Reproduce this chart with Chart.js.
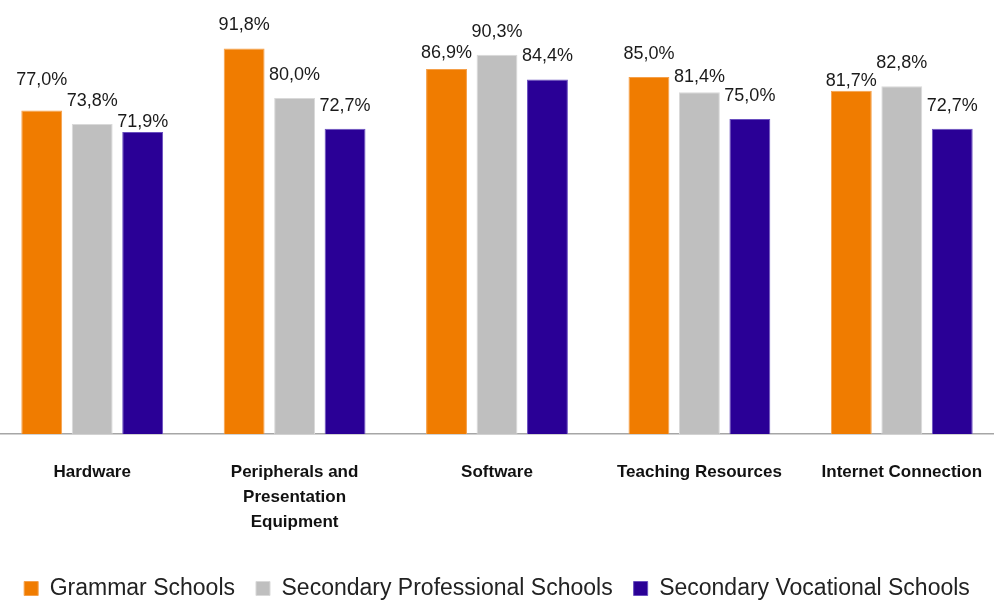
<!DOCTYPE html>
<html>
<head>
<meta charset="utf-8">
<script src="https://cdn.jsdelivr.net/npm/chart.js@4/dist/chart.umd.min.js"></script>
<style>
  html, body { margin: 0; padding: 0; background: #fff; overflow: hidden; }
  #wrap { position: absolute; left: -9px; top: 0; width: 1012px; height: 610px; }
</style>
</head>
<body>
<div id="wrap"><canvas id="schoolChart"></canvas></div>
<script>
// Categories and series
const categories = [
  "Hardware",
  ["Peripherals and", "Presentation", "Equipment"],
  "Software",
  "Teaching Resources",
  "Internet Connection",
];
const seriesNames = [
  "Grammar Schools",
  "Secondary Professional Schools",
  "Secondary Vocational Schools",
];
const grammarSchools = [77.0, 91.8, 86.9, 85.0, 81.7];
const professionalSchools = [73.8, 80.0, 90.3, 81.4, 82.8];
const vocationalSchools = [71.9, 72.7, 84.4, 75.0, 72.7];

const colors = ["#f07c00", "#bfbfbf", "#2a0096"];
const borders = ["#f5a04a", "#d9d9d9", "#6a4fc0"];

// a few value labels were dragged by hand in the original, so nudge them (px, + = down)
const labelNudge = [
  [-8, 0, 7, 0, 13],
  [0, 0, 0, 8, 0],
  [13, 0, 0, 0, 0],
];

// Draws the "77,0%" style labels above each bar
const valueLabels = {
  id: "valueLabels",
  afterDatasetsDraw(chart) {
    const ctx = chart.ctx;
    ctx.save();
    ctx.font = "18px 'Liberation Sans', sans-serif";
    ctx.fillStyle = "#1a1a1a";
    ctx.textAlign = "center";
    ctx.textBaseline = "bottom";
    chart.data.datasets.forEach((ds, i) => {
      chart.getDatasetMeta(i).data.forEach((bar, j) => {
        const txt = ds.data[j].toFixed(1).replace(".", ",") + "%";
        ctx.fillText(txt, bar.x, bar.y - 14 + labelNudge[i][j]);
      });
    });
    ctx.restore();
  },
};

const datasets = [grammarSchools, professionalSchools, vocationalSchools].map(
  (values, i) => ({
    label: seriesNames[i],
    data: values,
    backgroundColor: colors[i],
    borderColor: borders[i],
    borderWidth: 1,
    categoryPercentage: 0.748,
    barPercentage: 0.81,
  })
);

new Chart(document.getElementById("schoolChart"), {
  type: "bar",
  data: { labels: categories, datasets: datasets },
  plugins: [valueLabels],
  options: {
    responsive: true,
    maintainAspectRatio: false,
    animation: false,
    layout: { padding: { top: 14, bottom: 0, left: 0, right: 0 } },
    scales: {
      x: {
        grid: { display: false },
        border: { display: true, color: "#a6a6a6", width: 1.5 },
        afterFit(scale) {
          scale.height += 3; // a bit more room before the legend
        },
        ticks: {
          autoSkip: false,
          maxRotation: 0,
          padding: 18,
          color: "#111",
          font: { family: "'Liberation Sans', sans-serif", size: 17, weight: "bold", lineHeight: 1.47 },
        },
      },
      y: {
        display: false,
        min: 0,
        max: 100,
      },
    },
    plugins: {
      tooltip: { enabled: false },
      legend: {
        position: "bottom",
        labels: {
          boxWidth: 14,
          boxHeight: 14,
          padding: 21,
          color: "#222",
          font: { family: "'Liberation Sans', sans-serif", size: 23 },
        },
      },
    },
  },
});
</script>
</body>
</html>
